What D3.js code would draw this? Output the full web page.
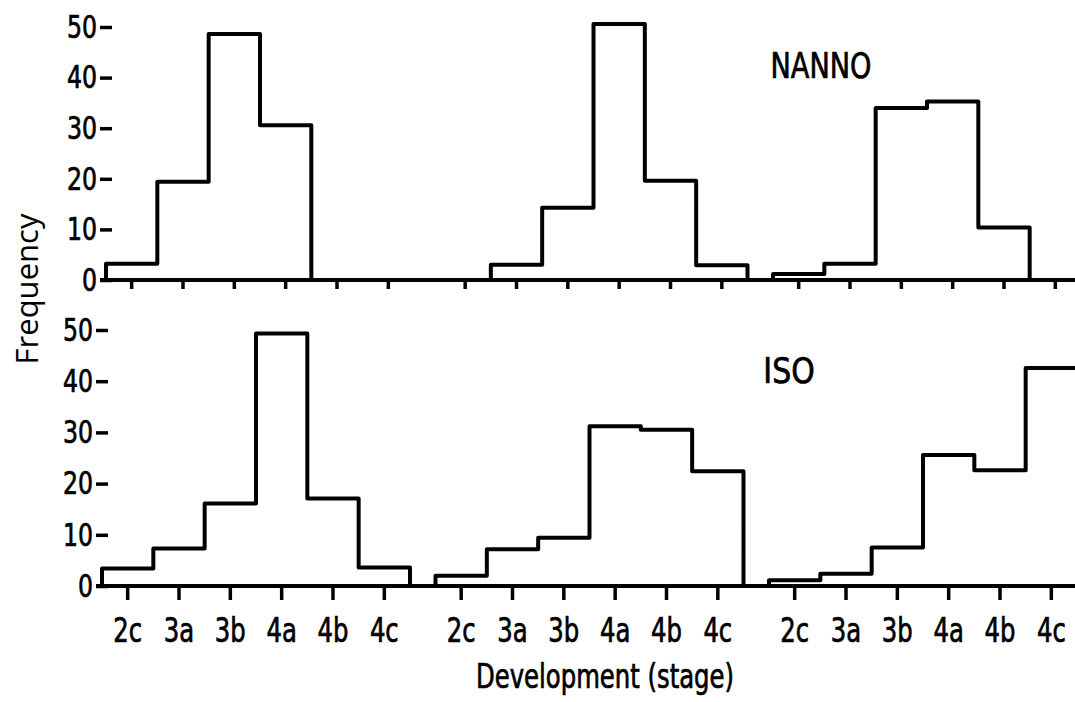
<!DOCTYPE html>
<html>
<head>
  <meta charset="utf-8">
  <script src="https://d3js.org/d3.v7.min.js"></script>
  <style>
  body{
    margin:0;
    background:#fff;
  }
  .letter{
    font-family:"Liberation Sans Narrow","DejaVu Sans Condensed",sans-serif;
    fill:#000;
    stroke:#000;
    stroke-width:0.7px;
  }
  .axis--y text{
    font-family:"Liberation Sans Narrow","DejaVu Sans Condensed",sans-serif;
    font-size:32px;
    fill:#000;
    stroke:#000;
    stroke-width:0.7px;
  }
  .axis--y line{
    stroke:#000;
    stroke-width:3.5px;
  }
  .hist{
    fill:none;
    stroke:#000;
    stroke-width:4px;
    stroke-linejoin:round;
  }
  .base{
    stroke:#000;
    stroke-width:4px;
  }
  .xtick{
    stroke:#000;
    stroke-width:3.5px;
  }
  </style>
</head>
<body>
  <svg width="1075" height="702"></svg>
<script>
// development stages on the x axis, repeated for three sample sets
var stages = ["2c","3a","3b","4a","4b","4c"];
var sets = ["I","II","III"];
var yTicks = [0,10,20,30,40,50];

// frequencies, one array per sample set
var nanno1 = [3.2, 19.4, 48.6, 30.6, 0, 0];
var nanno2 = [0, 3, 14.3, 50.6, 19.6, 2.9];
var nanno3 = [1.2, 3.2, 34, 35.3, 10.4, 0];
var iso1 = [3.4, 7.3, 16.1, 49.3, 17.1, 3.6];
var iso2 = [2, 7.2, 9.4, 31.2, 30.5, 22.4];
var iso3 = [1.1, 2.4, 7.5, 25.6, 22.6, 42.6];

// the lettering in the figure is narrow, squeeze the condensed font a bit
var squeeze = 0.82;

var svg = d3.select("svg");

var outer = d3.scaleBand().domain(sets).range([102, 1077]).paddingInner(0.0765),
    inner = d3.scaleBand().domain(stages).range([0, outer.bandwidth()]);

function label(sel, x, y, size, sx, txt){
  return sel.append("text")
    .attr("class","letter")
    .attr("transform","translate(" + x + "," + y + ") scale(" + sx + ",1)")
    .attr("text-anchor","middle")
    .attr("font-size",size + "px")
    .text(txt);
}

var panels = [
  {name:"NANNO", data:[nanno1,nanno2,nanno3], y0:280, y50:27, dx:4, tick:9, lx:821, ly:78, fs:36, sx:0.84},
  {name:"ISO", data:[iso1,iso2,iso3], y0:586, y50:330, dx:0, tick:14, lx:789, ly:383, fs:35, sx:0.95}
];

panels.forEach(function(p, pi){
  var y = d3.scaleLinear().domain([0,50]).range([p.y0, p.y50]);
  var g = svg.append("g").attr("transform","translate(" + p.dx + ",0)");

  // zero line across the whole width
  g.append("line")
    .attr("class","base")
    .attr("x1",96).attr("x2",1080)
    .attr("y1",y(0)).attr("y2",y(0));

  g.append("g")
    .attr("class","axis axis--y")
    .attr("transform","translate(108,0)")
    .call(d3.axisLeft(y).tickValues(yTicks).tickSize(12).tickPadding(3))
    .call(function(a){
      a.select(".domain").remove();
      a.selectAll("text")
        .attr("x",0)
        .attr("transform","translate(-15,0) scale(" + squeeze + ",1)");
    });

  var line = d3.line()
    .x(function(d){ return d[0]; })
    .y(function(d){ return y(d[1]); })
    .curve(d3.curveStepAfter);

  sets.forEach(function(s, si){
    var vals = p.data[si];
    var x0 = outer(s);
    var pts = [[x0 + inner(stages[0]), 0]];
    stages.forEach(function(st, i){
      pts.push([x0 + inner(st), vals[i]]);
    });
    pts.push([x0 + outer.bandwidth(), 0]);

    g.append("path")
      .attr("class","hist")
      .attr("d", line(pts));

    // ticks at the middle of every stage
    g.selectAll(".xt" + si)
      .data(stages)
      .enter()
      .append("line")
      .attr("class","xtick")
      .attr("x1",function(d){ return x0 + inner(d) + inner.bandwidth()/2; })
      .attr("x2",function(d){ return x0 + inner(d) + inner.bandwidth()/2; })
      .attr("y1",y(0))
      .attr("y2",y(0) + p.tick);

    if(pi == 1){
      stages.forEach(function(d){
        label(g, x0 + inner(d) + inner.bandwidth()/2, 642, 33, squeeze, d);
      });
    }
  });

  label(g, p.lx - p.dx, p.ly, p.fs, p.sx, p.name);
});

label(svg, 605, 688, 33, squeeze, "Development (stage)");

svg.append("text")
  .attr("transform","translate(38,289) rotate(-90)")
  .attr("text-anchor","middle")
  .attr("font-family","'Open Sans',sans-serif")
  .attr("font-size","31px")
  .attr("fill","#000")
  .text("Frequency");
</script>
</body>
</html>
